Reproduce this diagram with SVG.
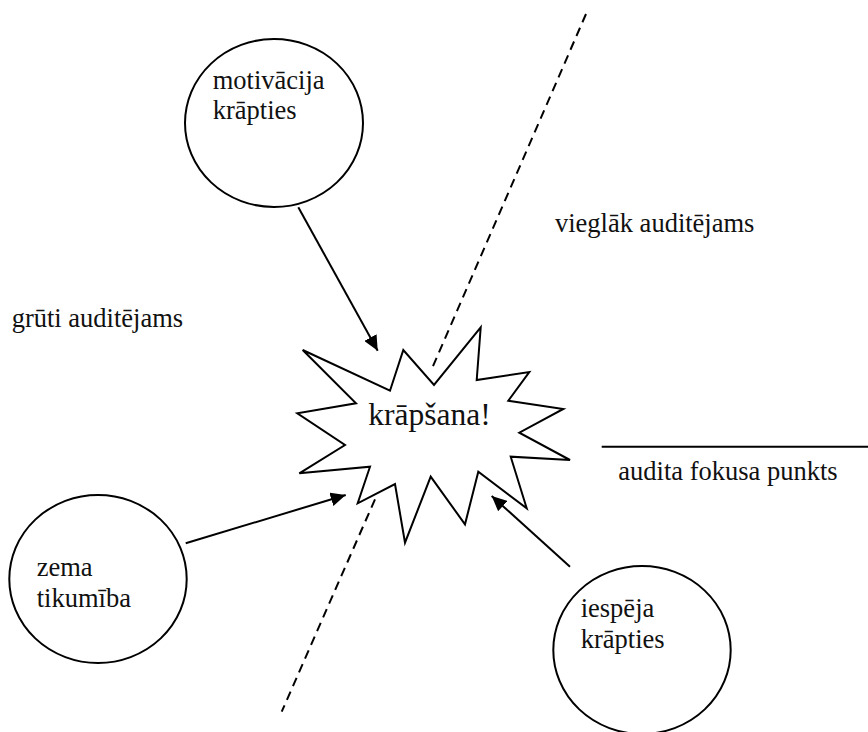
<svg xmlns="http://www.w3.org/2000/svg" width="868" height="732" viewBox="0 0 868 732">
<defs>
<style>
.node{fill:#fff;stroke:#000;stroke-width:2}
.t{font-family:'Liberation Serif','Times New Roman',Tinos,'DejaVu Serif',serif;font-size:26.5px;fill:#111}
.con{stroke:#000;stroke-width:2;fill:none}
.dash{stroke:#000;stroke-width:2;fill:none;stroke-dasharray:9 6}
</style>
<marker id="ah" markerUnits="userSpaceOnUse" markerWidth="16" markerHeight="14" refX="15" refY="7" orient="auto">
<path d="M0,0 L15,7 L0,14 z" fill="#000"/>
</marker>
</defs>
<rect width="868" height="732" fill="#fff"/>
<g id="dividers">
<line class="dash" x1="586" y1="14" x2="430.7" y2="371.5"/>
<line class="dash" x1="375" y1="499.3" x2="281.7" y2="711.7"/>
<line class="con" x1="601.7" y1="446.7" x2="868" y2="446.7"/>
</g>
<g id="n-motivacija" font-family="Liberation Serif, serif">
<ellipse class="node" cx="274" cy="123" rx="89" ry="84"/>
<text class="t" x="212.7" y="89.3">motivācija</text>
<text class="t" x="212.7" y="119">krāpties</text>
</g>
<g id="n-zema">
<ellipse class="node" cx="98" cy="579" rx="88.7" ry="84"/>
<text class="t" x="36.7" y="576">zema</text>
<text class="t" x="36.7" y="606.7">tikumība</text>
</g>
<g id="n-iespeja">
<ellipse class="node" cx="642" cy="650" rx="88.7" ry="84"/>
<text class="t" x="580.7" y="616.7">iespēja</text>
<text class="t" x="580.7" y="647.7">krāpties</text>
</g>
<g id="n-krapsana">
<polygon class="node" points="302.7,350 390,390.7 403.3,350 434,385 480.7,327.3 476.7,380 529.3,372 508.3,400.7 563.3,409 519.3,432.7 570,460 510.7,456.7 526.7,508.3 478.3,471.7 465,524.3 430.7,476.7 405,542.7 395,484 357.7,503.3 370,466.7 299.3,473.3 345,445 297.3,413.3 356,403.3"/>
<text class="t" x="368.3" y="425" style="font-size:31.5px">krāpšana!</text>
</g>
<g id="connectors">
<line class="con" x1="298.3" y1="207.3" x2="377.7" y2="350.7" marker-end="url(#ah)"/>
<line class="con" x1="185.7" y1="543.3" x2="345.7" y2="495" marker-end="url(#ah)"/>
<line class="con" x1="570" y1="566.7" x2="491.7" y2="496" marker-end="url(#ah)"/>
</g>
<g id="labels">
<text class="t" x="555" y="231.7">vieglāk auditējams</text>
<text class="t" x="11.7" y="327.3">grūti auditējams</text>
<text class="t" x="618.3" y="480">audita fokusa punkts</text>
</g>
</svg>
